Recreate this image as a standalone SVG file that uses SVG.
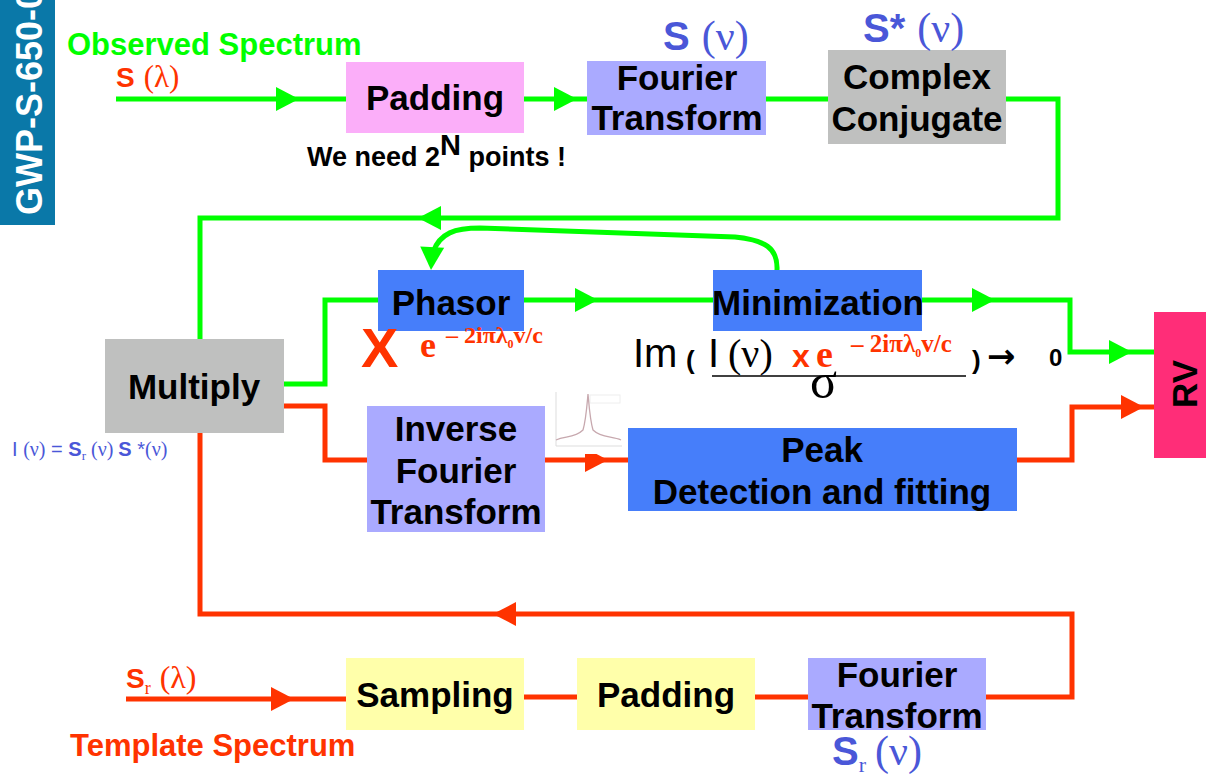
<svg xmlns="http://www.w3.org/2000/svg" xmlns:xlink="http://www.w3.org/1999/xlink" width="1206" height="774" viewBox="0 0 1206 774">
<style>
.lbl{font-family:"Liberation Sans",Arial,sans-serif;font-weight:bold;font-size:35px;fill:#000;text-anchor:middle}
.g{fill:none;stroke:#00FF00;stroke-width:5}
.r{fill:none;stroke:#FF3300;stroke-width:5}
.sans{font-family:"Liberation Sans",Arial,sans-serif}
.serif{font-family:"Liberation Serif","Times New Roman",serif}
.blue{fill:#4A57D8}
.red{fill:#FF3300}
</style>
<defs>
<polygon id="ar" points="-23,-12 0,0 -23,12"/>
</defs>
<rect width="1206" height="774" fill="#fff"/>

<g id="banner">
<rect x="0" y="0" width="55" height="225" fill="#0A78A8"/>
<text transform="translate(42,215) rotate(-90)" class="sans" font-weight="bold" font-size="36" fill="#fff">GWP-S-650-0</text>
</g>

<g id="connectors">
<path class="g" d="M116,99 H346"/>
<path class="g" d="M524,99 H587"/>
<path class="g" d="M766,99 H828"/>
<path class="g" d="M1006,99 H1058 V218 H200 V339"/>
<path class="g" d="M284,384 H325 V300 H378"/>
<path class="g" d="M524,300 H713"/>
<path class="g" d="M922,300 H1070 V352 H1154"/>
<path class="g" d="M777,270 C778,248 765,240 735,237 L480,228 C455,228 440,233 433,252"/>
<g fill="#00FF00">
<use xlink:href="#ar" transform="translate(299,99)"/>
<use xlink:href="#ar" transform="translate(577,99)"/>
<use xlink:href="#ar" transform="translate(418,218) rotate(180)"/>
<use xlink:href="#ar" transform="translate(598,300)"/>
<use xlink:href="#ar" transform="translate(995,300)"/>
<use xlink:href="#ar" transform="translate(1132,352)"/>
<use xlink:href="#ar" transform="translate(431,270) rotate(93)"/>
</g>
<path class="r" d="M284,406 H325 V460 H367"/>
<path class="r" d="M545,460 H628"/>
<path class="r" d="M1017,460 H1072 V407 H1154"/>
<path class="r" d="M986,697 H1072 V614 H200 V433"/>
<path class="r" d="M126,699 H346"/>
<path class="r" d="M524,697 H577"/>
<path class="r" d="M755,697 H808"/>
<g fill="#FF3300">
<use xlink:href="#ar" transform="translate(608,460)"/>
<use xlink:href="#ar" transform="translate(1144,407)"/>
<use xlink:href="#ar" transform="translate(493,614) rotate(180)"/>
<use xlink:href="#ar" transform="translate(294,699)"/>
</g>
</g>

<g id="padding1"><rect x="346" y="62" width="178" height="71" fill="#FBAEF9"/><text x="435" y="110" class="lbl">Padding</text></g>
<g id="ft1"><rect x="587" y="61" width="179" height="74" fill="#AAAAFF"/><text x="677" y="90" class="lbl">Fourier</text><text x="677" y="130" class="lbl">Transform</text></g>
<g id="conj"><rect x="828" y="50" width="178" height="94" fill="#BFC0BF"/><text x="917" y="89" class="lbl">Complex</text><text x="917" y="131" class="lbl">Conjugate</text></g>
<g id="multiply"><rect x="105" y="339" width="179" height="94" fill="#BFC0BF"/><text x="194" y="399" class="lbl">Multiply</text></g>
<g id="phasor"><rect x="378" y="270" width="146" height="61" fill="#467EFA"/><text x="451" y="315" class="lbl">Phasor</text></g>
<g id="minimization"><rect x="713" y="270" width="209" height="61" fill="#467EFA"/><text x="818" y="315" class="lbl">Minimization</text></g>
<g id="rv"><rect x="1154" y="312" width="52" height="146" fill="#FF2D78"/><text transform="translate(1197,384) rotate(-90)" class="lbl">RV</text></g>
<g id="ift"><rect x="367" y="406" width="178" height="126" fill="#AAAAFF"/><text x="456" y="441" class="lbl">Inverse</text><text x="456" y="483" class="lbl">Fourier</text><text x="456" y="524" class="lbl">Transform</text></g>
<g id="peak"><rect x="628" y="428" width="389" height="83" fill="#467EFA"/><text x="822" y="462" class="lbl">Peak</text><text x="822" y="504" class="lbl">Detection and fitting</text></g>
<g id="sampling"><rect x="346" y="658" width="178" height="72" fill="#FFFFAA"/><text x="435" y="707" class="lbl">Sampling</text></g>
<g id="padding2"><rect x="577" y="658" width="178" height="72" fill="#FFFFAA"/><text x="666" y="707" class="lbl">Padding</text></g>
<g id="ft2"><rect x="808" y="658" width="178" height="72" fill="#AAAAFF"/><text x="897" y="687" class="lbl">Fourier</text><text x="897" y="728" class="lbl">Transform</text></g>

<g id="labels">
<text x="67" y="55" class="sans" font-weight="bold" font-size="31" fill="#00FF00">Observed Spectrum</text>
<text x="116" y="87" class="red"><tspan class="sans" font-weight="bold" font-size="28">S</tspan><tspan class="serif" font-size="31" dx="9">(λ)</tspan></text>
<text x="307" y="166" class="sans" font-weight="bold" font-size="27" fill="#000">We need 2<tspan dy="-11" font-size="29">N</tspan><tspan dy="11"> points !</tspan></text>
<text x="663" y="50" class="blue"><tspan class="sans" font-weight="bold" font-size="40">S</tspan><tspan class="serif" font-size="42" dx="12">(ν)</tspan></text>
<text x="863" y="42" class="blue"><tspan class="sans" font-weight="bold" font-size="40">S*</tspan><tspan class="serif" font-size="42" dx="12">(ν)</tspan></text>
<text x="12" y="456" class="blue" font-size="20"><tspan class="sans">I </tspan><tspan class="serif">(ν)</tspan><tspan class="sans"> = </tspan><tspan class="sans" font-weight="bold">S</tspan><tspan class="serif" font-size="13" dy="4">r</tspan><tspan class="serif" dy="-4"> (ν) </tspan><tspan class="sans" font-weight="bold">S</tspan><tspan class="sans"> *</tspan><tspan class="serif">(ν)</tspan></text>
<text x="126" y="688" class="red"><tspan class="sans" font-weight="bold" font-size="28">S</tspan><tspan class="serif" font-size="18" dy="6">r</tspan><tspan class="serif" font-size="32" dy="-6" dx="9">(λ)</tspan></text>
<text x="70" y="756" class="sans red" font-weight="bold" font-size="31">Template Spectrum</text>
<text x="832" y="765" class="blue"><tspan class="sans" font-weight="bold" font-size="40">S</tspan><tspan class="serif" font-size="22" dy="7">r</tspan><tspan class="serif" font-size="42" dy="-7" dx="9">(ν)</tspan></text>
<g id="phasor-factor">
<text x="361" y="367" class="sans red" font-weight="bold" font-size="56">X</text>
<text x="420" y="357" class="serif red" font-weight="bold" font-size="36">e</text>
<text x="446" y="343" class="serif red" font-weight="bold"><tspan font-size="24">– 2iπλ</tspan><tspan font-size="12" dy="5">0</tspan><tspan font-size="24" dy="-5">v/c</tspan></text>
</g>
<g id="formula">
<text x="633" y="367" class="sans" font-size="40" fill="#000">Im</text>
<text x="686" y="369" class="sans" font-weight="bold" font-size="26" fill="#000">(</text>
<text x="708" y="367" class="sans" font-size="40" fill="#000">I</text>
<text x="728" y="367" class="serif" font-size="40" fill="#000">(ν)</text>
<text x="792" y="367" class="sans red" font-weight="bold" font-size="32">x</text>
<text x="816" y="367" class="serif red" font-weight="bold" font-size="38">e</text>
<text x="851" y="352" class="serif red" font-weight="bold"><tspan font-size="25">– 2iπλ</tspan><tspan font-size="12" dy="5">0</tspan><tspan font-size="25" dy="-5">v/c</tspan></text>
<line x1="712" y1="376" x2="966" y2="376" stroke="#000" stroke-width="1.5"/>
<text x="810" y="398" class="serif" font-size="50" fill="#000">σ</text>
<text x="972" y="369" class="sans" font-weight="bold" font-size="26" fill="#000">)</text>
<text x="987" y="368" font-family="'DejaVu Sans',sans-serif" font-weight="bold" font-size="34" fill="#000">→</text>
<text x="1049" y="366" class="sans" font-weight="bold" font-size="24" fill="#000">0</text>
</g>
<g id="thumb">
<rect x="548" y="388" width="77" height="66" fill="#fff"/>
<path d="M556,392 V446 H622" fill="none" stroke="#ddd" stroke-width="1"/>
<rect x="590" y="395" width="30" height="8" fill="none" stroke="#eee" stroke-width="1"/>
<path d="M556,440 C565,436 575,438 583,430 C586,420 587,405 588,394 C589,405 590,420 593,430 C601,438 612,436 621,440" fill="none" stroke="#C7A8AE" stroke-width="1.3"/>
</g>
</g>
</svg>
